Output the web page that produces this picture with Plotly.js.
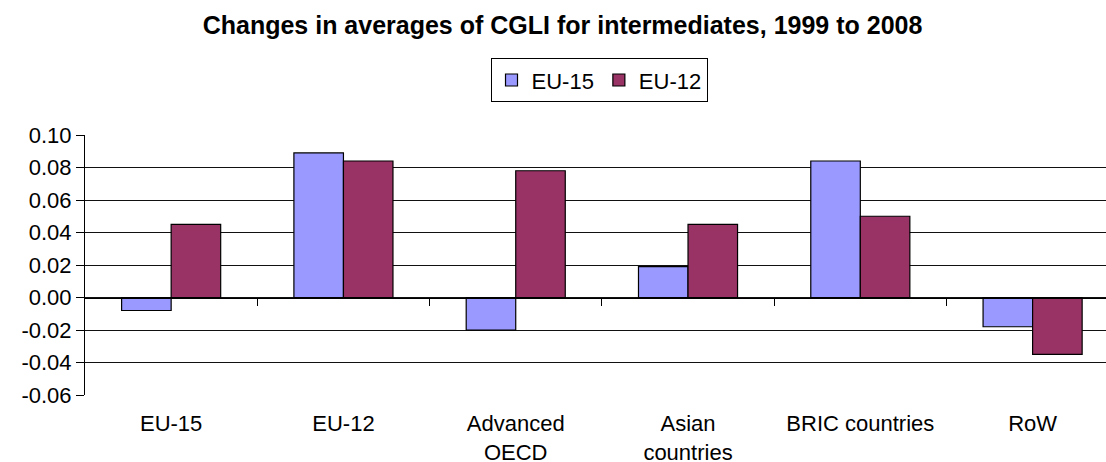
<!DOCTYPE html>
<html>
<head>
<meta charset="utf-8">
<script src="https://cdn.plot.ly/plotly-3.0.1.min.js"></script>
<style>
html,body{margin:0;padding:0;background:#fff;}
#chart{width:1106px;height:462px;}
</style>
</head>
<body>
<div id="chart"></div>
<script>
const groups=['EU-15','EU-12','Advanced<br>OECD','Asian<br>countries','BRIC countries','RoW'];
const eu15=[-0.008,0.089,-0.020,0.019,0.084,-0.018];
const eu12=[0.045,0.084,0.078,0.045,0.050,-0.035];
const seriesNames=['EU-15','EU-12'];
const seriesColors=['#9999FF','#993366'];
const yTicks=[-0.06,-0.04,-0.02,0.00,0.02,0.04,0.06,0.08,0.10];
const boundaries=[0.5,1.5,2.5,3.5,4.5];

const fnt='Liberation Sans, Arial, sans-serif';

const data=[
  {type:'bar',name:seriesNames[0],x:groups,y:eu15,
   marker:{color:seriesColors[0],line:{color:'#000',width:1.2}}},
  {type:'bar',name:seriesNames[1],x:groups,y:eu12,
   marker:{color:seriesColors[1],line:{color:'#000',width:1.2}}},
  // empty trace so the zero-line tick axis is drawn
  {type:'scatter',x:[],y:[],xaxis:'x2',yaxis:'y',showlegend:false,hoverinfo:'skip'}
];

const xr=[-0.5,5.426];
const yr=[-0.06,0.10];

const layout={
  width:1106,height:462,
  margin:{l:85,r:0,t:135,b:67},
  paper_bgcolor:'#fff',plot_bgcolor:'#fff',
  font:{family:fnt,color:'#000',size:22},
  title:{text:'<b>Changes in averages of CGLI for intermediates, 1999 to 2008</b>',
    font:{family:fnt,size:25,color:'#000'},
    xref:'container',x:0.5086,xanchor:'center',
    yref:'container',y:0.946,yanchor:'middle'},
  barmode:'group',bargap:0.425,bargroupgap:0,
  showlegend:true,
  legend:{orientation:'h',xref:'container',x:0.5416,xanchor:'center',
    yref:'container',y:0.874,yanchor:'top',
    bordercolor:'#000',borderwidth:1,bgcolor:'#fff',
    font:{family:fnt,size:22,color:'#000'},
    itemwidth:30,tracegroupgap:0},
  xaxis:{type:'category',range:xr,showgrid:false,zeroline:false,showline:false,
    ticks:'',tickfont:{family:fnt,size:22,color:'#000'},ticklabelstandoff:13},
  xaxis2:{type:'linear',overlaying:'x',anchor:'free',
    position:(0-yr[0])/(yr[1]-yr[0]),range:xr,
    showline:true,linecolor:'#000',linewidth:1,
    ticks:'outside',ticklen:7,tickcolor:'#000',tickwidth:1,
    tickvals:boundaries,showticklabels:false,showgrid:false,zeroline:false},
  yaxis:{range:yr,tickvals:yTicks,ticktext:yTicks.map(v=>v.toFixed(2)),
    showgrid:true,gridcolor:'#111',gridwidth:1,
    zeroline:false,showline:true,linecolor:'#000',linewidth:1,
    ticks:'outside',ticklen:8,tickcolor:'#000',
    tickfont:{family:fnt,size:22,color:'#000'}}
};

Plotly.newPlot('chart',data,layout,{displayModeBar:false,staticPlot:true});
</script>
</body>
</html>
